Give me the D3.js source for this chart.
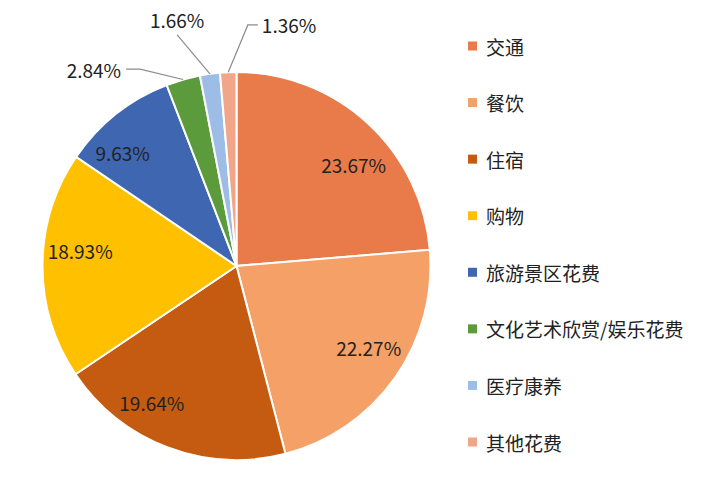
<!DOCTYPE html>
<html>
<head>
<meta charset="utf-8">
<script src="https://cdn.jsdelivr.net/npm/d3@7"></script>
<style>
  body { margin: 0; background: #fff; }
  text { font-family: "Noto Sans CJK SC", "Noto Sans", sans-serif; fill: #222; }
</style>
</head>
<body>
<svg id="pie" width="714" height="500"></svg>
<script>
// data
const categories = ['交通', '餐饮', '住宿', '购物', '旅游景区花费', '文化艺术欣赏/娱乐花费', '医疗康养', '其他花费'];
const shares = [23.67, 22.27, 19.64, 18.93, 9.63, 2.84, 1.66, 1.36];
const colors = ['#E97B4B', '#F4A066', '#C55A11', '#FFC000', '#3F66B0', '#5B9B3C', '#9DBCE6', '#F1A68A'];

const svg = d3.select('#pie');
const cx = 236.5, cy = 266, r = 194;

const pie = d3.pie().sort(null).value(d => d);
const arcs = pie(shares);
const arc = d3.arc().innerRadius(0).outerRadius(r);

const g = svg.append('g').attr('transform', `translate(${cx},${cy})`);

g.selectAll('path.slice')
  .data(arcs)
  .enter()
  .append('path')
  .attr('class', 'slice')
  .attr('d', arc)
  .attr('fill', (d, i) => colors[i])
  .attr('stroke', '#fff')
  .attr('stroke-width', 2);

const fmt = d => d.toFixed(2) + '%';
const polar = (deg, rad) => {
  const a = deg * Math.PI / 180;
  return [Math.sin(a) * rad, -Math.cos(a) * rad];
};
const midDeg = d => (d.startAngle + d.endAngle) / 2 * 180 / Math.PI;

// big slices: label inside (excel "best fit" nudges: angle shift, radius factor)
const inLayout = {
  0: { da: 6.4, rf: 0.80 },
  1: { da: -3.7, rf: 0.80 },
  2: { da: 11, rf: 0.83 },
  3: { da: 5.6, rf: 0.81 },
  4: { da: -6.6, rf: 0.83 }
};
arcs.forEach((d, i) => {
  const lay = inLayout[i];
  if (!lay) return;
  const p = polar(midDeg(d) + lay.da, r * lay.rf);
  g.append('text')
    .attr('x', p[0])
    .attr('y', p[1])
    .attr('text-anchor', 'middle')
    .attr('dominant-baseline', 'central')
    .style('font-size', '19px')
    .text(fmt(d.data));
});

// small slices: label outside with leader line
// layout: angle (deg) and radius factor of line end, tail length, text placement
const outLayout = {
  5: { ang: 333.9, rf: 1.13, tail: -14, anchor: 'end', dx: -5, dy: 0 },
  6: { ang: 345.6, rf: 1.23, tail: 0, anchor: 'middle', dx: 0, dy: -15 },
  7: { ang: 2.7, rf: 1.244, tail: 10, anchor: 'start', dx: 4, dy: 0 }
};
arcs.forEach((d, i) => {
  const lay = outLayout[i];
  if (!lay) return;
  const edge = polar(midDeg(d), r);
  const end = polar(lay.ang, r * lay.rf);
  const tail = [end[0] + lay.tail, end[1]];
  g.append('polyline')
    .attr('points', [edge, end, tail].map(p => p.join(',')).join(' '))
    .attr('fill', 'none')
    .attr('stroke', '#8c8c8c')
    .attr('stroke-width', 1.2);
  g.append('text')
    .attr('x', tail[0] + lay.dx)
    .attr('y', tail[1] + lay.dy)
    .attr('text-anchor', lay.anchor)
    .attr('dominant-baseline', 'central')
    .style('font-size', '19px')
    .text(fmt(d.data));
});

// legend
const ly = d3.scalePoint().domain(categories).range([46, 442]);
const leg = svg.append('g').selectAll('g')
  .data(categories)
  .enter()
  .append('g')
  .attr('transform', d => `translate(468,${ly(d)})`);
leg.append('rect')
  .attr('x', 0)
  .attr('y', -4.5)
  .attr('width', 9)
  .attr('height', 9)
  .attr('fill', (d, i) => colors[i]);
leg.append('text')
  .attr('x', 18)
  .attr('y', 0)
  .attr('dominant-baseline', 'central')
  .style('font-size', '19px')
  .text(d => d);
</script>
</body>
</html>
